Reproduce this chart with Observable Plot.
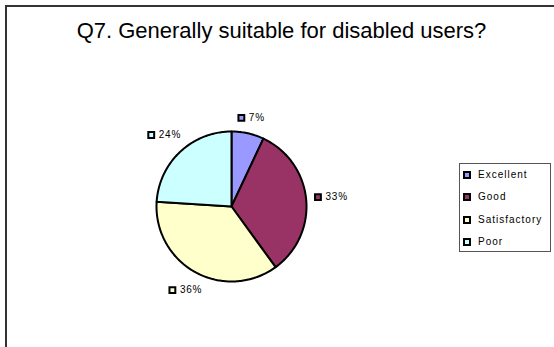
<!DOCTYPE html>
<html>
<head>
<meta charset="utf-8">
<script src="https://cdn.jsdelivr.net/npm/d3@7"></script>
<script src="https://cdn.jsdelivr.net/npm/@observablehq/plot@0.6"></script>
<style>
  body { margin: 0; background: #fff; }
  #wrap { position: relative; width: 554px; height: 347px; overflow: hidden; font-family: "Liberation Sans", Arial, sans-serif; background: #fff; }
  #frame { position: absolute; left: 5px; top: 5px; width: 620px; height: 420px; border: 2px solid #333; box-sizing: border-box; }
  #title { position: absolute; left: 0; width: 563px; top: 20px; text-align: center; font-size: 22px; line-height: 22px; color: #000; white-space: nowrap; }
  #chart { position: absolute; left: 0; top: 0; }
  #chart svg text { letter-spacing: 0.8px; }
  #legend { position: absolute; left: 459px; top: 163px; width: 92px; height: 89px; border: 1px solid #555; box-sizing: border-box; background: #fff; }
  .item { position: absolute; left: 0; height: 12px; font-size: 10px; line-height: 12px; letter-spacing: 1px; color: #000; white-space: nowrap; }
  .sw { position: absolute; left: 3px; top: 2px; width: 8px; height: 8px; border: 2px solid #000; box-sizing: border-box; }
  .lab { position: absolute; left: 18px; top: 0; }
</style>
</head>
<body>
<div id="wrap">
  <div id="frame"></div>
  <div id="chart"></div>
  <div id="title"></div>
  <div id="legend"></div>
</div>
<script>
const titleText = "Q7. Generally suitable for disabled users?";
const categories = ["Excellent", "Good", "Satisfactory", "Poor"];
const values = [7, 33, 36, 24];
const percentLabels = ["7%", "33%", "36%", "24%"];
const colors = ["#9999FF", "#993366", "#FFFFCC", "#CCFFFF"];

document.getElementById("title").textContent = titleText;

// geometry (pixels)
const W = 554, H = 347, cx = 231, cy = 206, R = 75;

const arcs = d3.pie().sort(null).value(d => d)(values);

// polygon points of each slice
const slicePts = [];
arcs.forEach((a, i) => {
  const cat = categories[i];
  slicePts.push({cat, x: 0, y: 0});
  const n = Math.max(2, Math.ceil((a.endAngle - a.startAngle) / (Math.PI / 180)));
  for (let k = 0; k <= n; k++) {
    const t = a.startAngle + (a.endAngle - a.startAngle) * k / n;
    slicePts.push({cat, x: R * Math.sin(t), y: R * Math.cos(t)});
  }
});

// data label positions derived from slice mid-angles
const labelPts = arcs.map((a, i) => {
  const t = (a.startAngle + a.endAngle) / 2;
  const s = Math.sin(t), c = Math.cos(t);
  const txt = percentLabels[i];
  const tw = (txt.length - 1) * 6.4 + 9.5;
  const w = 11 + tw, h = 10;
  const rb = R + 8 + (w / 2) * Math.abs(s) + (h / 2) * Math.abs(c);
  const bx = rb * s, by = rb * c;
  return {cat: categories[i], txt, sqx: bx - w / 2 + 3.5, tx: bx - w / 2 + 11, y: by};
});

const chart = Plot.plot({
  width: W,
  height: H,
  margin: 0,
  x: {domain: [-cx, W - cx], range: [0, W], axis: null},
  y: {domain: [-(H - cy), cy], range: [H, 0], axis: null},
  color: {domain: categories, range: colors},
  style: {fontFamily: "'Liberation Sans', Arial, sans-serif", background: "transparent"},
  marks: [
    Plot.line(slicePts, {x: "x", y: "y", z: "cat", fill: "cat", stroke: "#000", strokeWidth: 2, curve: "linear-closed", strokeLinejoin: "round"}),
    Plot.dot(labelPts, {x: "sqx", y: "y", symbol: "square", r: 3.3, fill: "cat", stroke: "#000", strokeWidth: 2}),
    Plot.text(labelPts, {x: "tx", y: "y", text: "txt", textAnchor: "start", fontSize: 10, fill: "#000"})
  ]
});
document.getElementById("chart").appendChild(chart);

// legend
const legend = document.getElementById("legend");
categories.forEach((c, i) => {
  const it = document.createElement("div");
  it.className = "item";
  it.style.top = (5 + i * 22.3) + "px";
  const sw = document.createElement("div");
  sw.className = "sw";
  sw.style.background = colors[i];
  const lb = document.createElement("div");
  lb.className = "lab";
  lb.textContent = c;
  it.appendChild(sw); it.appendChild(lb);
  legend.appendChild(it);
});
</script>
</body>
</html>
